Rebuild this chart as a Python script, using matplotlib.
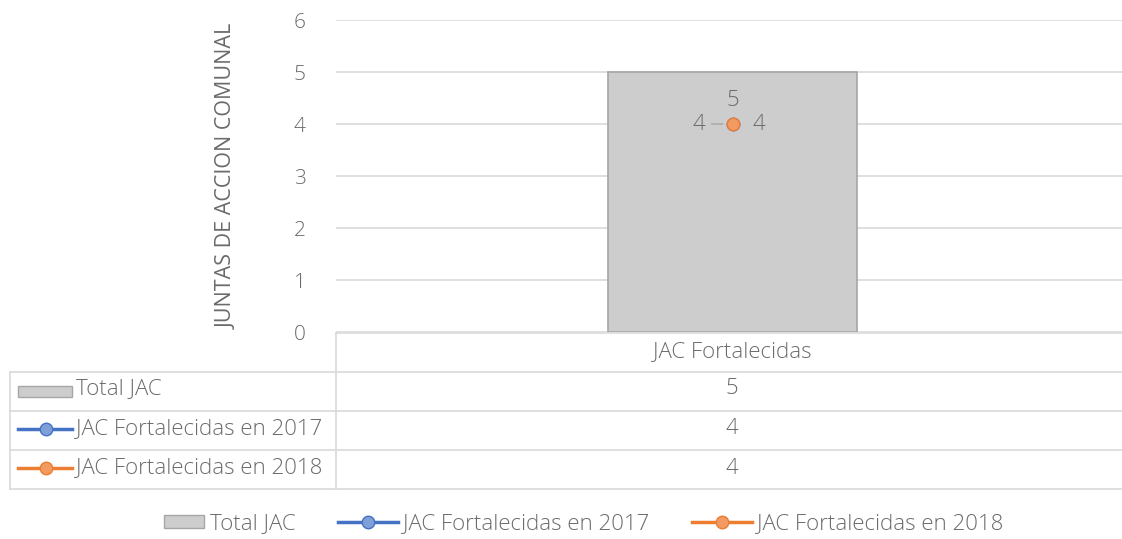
import matplotlib.pyplot as plt
from matplotlib.legend_handler import HandlerPatch
from matplotlib.lines import Line2D
from matplotlib.patches import Rectangle

plt.rcParams['font.family'] = ['Open Sans', 'DejaVu Sans']
plt.rcParams['font.weight'] = 'light'

categories = ['JAC Fortalecidas']
series_names = ['Total JAC', 'JAC Fortalecidas en 2017', 'JAC Fortalecidas en 2018']
total_jac = [5]
jac_2017 = [4]
jac_2018 = [4]
y_ticks = [0, 1, 2, 3, 4, 5, 6]

TXT = '#6b6b6b'
GRID = '#d9d9d9'
BAR = '#cdcdcd'
BAR_EDGE = '#a6a6a6'
BLUE, BLUE_FACE = '#4472c4', '#7f9fd8'
ORANGE, ORANGE_FACE = '#ed7d31', '#f29a62'
FS = 16

W, H = 1122, 539
fig = plt.figure(figsize=(W / 100, H / 100), dpi=100)

# main plot area (pixel box 336..1129 x 20..332, right side cut by the image edge)
ax = fig.add_axes([336 / W, 1 - 332 / H, 793 / W, 312 / H])
x = list(range(len(categories)))
ax.bar(x, total_jac, width=0.314, color=BAR, edgecolor=BAR_EDGE, linewidth=1.2, zorder=2)
ax.plot(x, jac_2017, color=BLUE, marker='o', ms=9, mfc=BLUE_FACE, mec=BLUE, zorder=3)
ax.plot(x, jac_2018, color=ORANGE, marker='o', ms=9, mfc=ORANGE_FACE, mec=ORANGE, zorder=4)

for xi, t, a, b in zip(x, total_jac, jac_2017, jac_2018):
    ax.annotate(str(t), (xi, a), xytext=(0, 23), textcoords='offset pixels',
                ha='center', va='center', fontsize=FS, color=TXT)
    ax.annotate(str(a), (xi, a), xytext=(-34, 0), textcoords='offset pixels',
                ha='center', va='center', fontsize=FS, color=TXT)
    ax.annotate('', (xi, a), xytext=(-21, 0), textcoords='offset pixels',
                arrowprops=dict(arrowstyle='-', color='#a6a6a6', lw=1, shrinkA=0, shrinkB=7))
    ax.annotate(str(b), (xi, b), xytext=(26, 0), textcoords='offset pixels',
                ha='center', va='center', fontsize=FS, color=TXT)

ax.set_xlim(-0.5, len(categories) - 0.5)
ax.set_ylim(0, 6)
ax.set_yticks(y_ticks)
ax.set_xticks([])
ax.grid(axis='y', color=GRID, linewidth=1.2, zorder=0)
ax.tick_params(axis='y', length=0, pad=22, labelsize=15, labelcolor=TXT)
for s in ax.spines.values():
    s.set_visible(False)
ax.set_ylabel('JUNTAS DE ACCION COMUNAL', fontsize=15.5, color=TXT, labelpad=40)

# data table drawn in figure pixel coordinates
tb = fig.add_axes([0, 0, 1, 1])
tb.set_xlim(0, W)
tb.set_ylim(H, 0)
tb.axis('off')
line_kw = dict(color=GRID, lw=1.2)
tb.plot([336, W], [333, 333], **line_kw)
for yy in [372, 411, 450, 489]:
    tb.plot([10, W], [yy, yy], **line_kw)
tb.plot([336, 336], [333, 489], **line_kw)
tb.plot([10, 10], [372, 489], **line_kw)

tb.text(732, 352, categories[0], ha='center', va='center', fontsize=FS, color=TXT)
row_y = [389, 429, 468]
for ry, name, vals in zip(row_y, series_names, [total_jac, jac_2017, jac_2018]):
    tb.text(76, ry, name, ha='left', va='center', fontsize=FS, color=TXT)
    tb.text(732, ry, str(vals[0]), ha='center', va='center', fontsize=FS, color=TXT)
tb.add_patch(Rectangle((18, row_y[0] - 3), 54, 11, facecolor=BAR, edgecolor=BAR_EDGE, lw=1))
for ry, c, fc in [(row_y[1], BLUE, BLUE_FACE), (row_y[2], ORANGE, ORANGE_FACE)]:
    tb.add_line(Line2D([18, 72], [ry, ry], color=c, lw=2.5))
    tb.plot([46], [ry], marker='o', ms=9, mfc=fc, mec=c)


def short_box(legend, orig_handle, xdescent, ydescent, width, height, fontsize):
    # the bar key in the legend is shorter than the line keys
    return Rectangle((-xdescent + width / 3, -ydescent), width * 2 / 3, height)


# legend
handles = [Rectangle((0, 0), 1, 1, facecolor=BAR, edgecolor=BAR_EDGE),
           Line2D([], [], color=BLUE, lw=2.5, marker='o', ms=9, mfc=BLUE_FACE, mec=BLUE),
           Line2D([], [], color=ORANGE, lw=2.5, marker='o', ms=9, mfc=ORANGE_FACE, mec=ORANGE)]
leg = fig.legend(handles, series_names, loc='center', bbox_to_anchor=(0.5116, 1 - 524 / H),
                 ncol=3, frameon=False, fontsize=FS, handlelength=2.7, handleheight=0.55,
                 columnspacing=1.9, handletextpad=0.25,
                 handler_map={Rectangle: HandlerPatch(patch_func=short_box)})
for t in leg.get_texts():
    t.set_color(TXT)

fig.savefig('out.png', dpi=100)
